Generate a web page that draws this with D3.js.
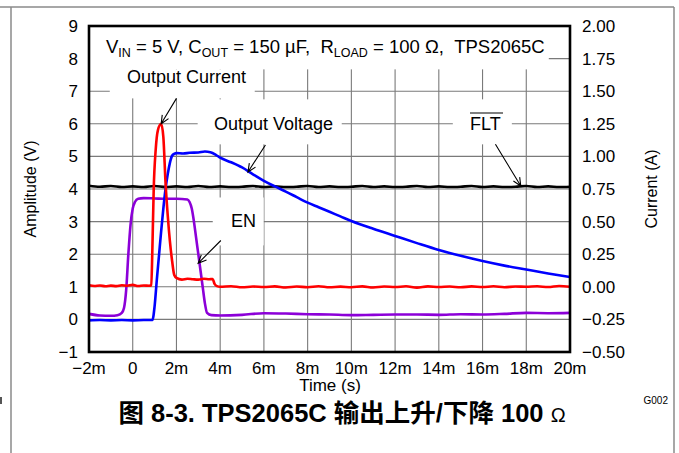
<!DOCTYPE html>
<html><head><meta charset="utf-8">
<script src="https://cdn.jsdelivr.net/npm/d3@7"></script>
<style>body{margin:0;background:#fff}svg{display:block}text{font-family:Arial,"Liberation Sans",Helvetica,"Noto Sans CJK SC",sans-serif;white-space:pre}</style>
</head><body><svg id="c" width="679" height="453"></svg>
<script>
// ---- data ----
const xTicks = [-2,0,2,4,6,8,10,12,14,16,18,20];
const xTickLabels = ["\u22122m","0","2m","4m","6m","8m","10m","12m","14m","16m","18m","20m"];
const yLTicks = [-1,0,1,2,3,4,5,6,7,8,9];
const yLTickLabels = ["\u22121","0","1","2","3","4","5","6","7","8","9"];
const yRTicks = [-0.5,-0.25,0,0.25,0.5,0.75,1,1.25,1.5,1.75,2];
const yRTickLabels = ["\u22120.50","\u22120.25","0.00","0.25","0.50","0.75","1.00","1.25","1.50","1.75","2.00"];

// FLT (V, left axis) [time ms, value]
const fltSeries = [[-2,4.10],[-1.5,4.07],[-1,4.09],[-0.5,4.06],[0,4.08],[0.5,4.06],[1,4.09],[1.5,4.06],[2,4.08],[2.5,4.06],[3,4.09],[3.5,4.06],[4,4.08],[4.5,4.06],[5,4.07],[5.5,4.09],[6,4.06],[6.5,4.08],[7,4.06],[7.5,4.07],[8,4.09],[8.5,4.06],[9,4.08],[9.5,4.06],[10,4.07],[10.5,4.09],[11,4.06],[11.5,4.08],[12,4.06],[12.5,4.07],[13,4.09],[13.5,4.06],[14,4.08],[14.5,4.06],[15,4.07],[15.5,4.09],[16,4.06],[16.5,4.08],[17,4.06],[17.5,4.07],[18,4.09],[18.5,4.06],[19,4.08],[19.5,4.06],[20,4.07]];
// Output voltage (V, left axis)
const voutSeries = [[-2,-0.03],[-1.5,-0.02],[-1,-0.03],[-0.5,-0.02],[0,-0.03],[0.5,-0.02],[0.9,-0.02],[1.0,0.4],[1.1,1.2],[1.2,1.95],[1.3,2.7],[1.4,3.4],[1.5,4.0],[1.6,4.45],[1.7,4.8],[1.8,5.02],[1.9,5.08],[2.0,5.1],[2.3,5.09],[2.6,5.11],[3.0,5.12],[3.3,5.15],[3.55,5.13],[3.8,5.05],[4,4.96],[4.5,4.82],[5,4.66],[5.5,4.45],[6,4.25],[6.5,4.08],[7,3.92],[7.5,3.75],[8,3.58],[8.5,3.44],[9,3.30],[9.5,3.16],[10,3.02],[11,2.78],[12,2.56],[13,2.34],[14,2.13],[15,1.95],[16,1.79],[17,1.65],[18,1.53],[19,1.41],[20,1.30]];
// EN (V, left axis)
const enSeries = [[-2,0.17],[-1.5,0.12],[-1,0.11],[-0.7,0.13],[-0.5,0.2],[-0.4,0.35],[-0.3,0.9],[-0.2,2.0],[-0.1,2.9],[0,3.4],[0.1,3.6],[0.25,3.7],[0.5,3.72],[1,3.71],[1.5,3.70],[2,3.70],[2.5,3.68],[2.6,3.6],[2.7,3.4],[2.8,3.0],[2.9,2.5],[3.0,2.0],[3.1,1.5],[3.2,1.0],[3.3,0.5],[3.4,0.2],[3.6,0.13],[4,0.12],[5,0.14],[6,0.19],[7,0.18],[8,0.16],[9,0.15],[10,0.13],[11,0.14],[12,0.15],[13,0.15],[14,0.14],[15,0.16],[16,0.15],[17,0.17],[18,0.2],[19,0.19],[20,0.2]];
// Output current (A, right axis)
const ioutSeries = [[-2,0.012],[-1.75,0.006],[-1.5,0.010],[-1.25,0.004],[-1,0.009],[-0.75,0.005],[-0.5,0.012],[-0.25,0.008],[0,0.015],[0.25,0.006],[0.5,0.010],[0.75,0.008],[0.85,0.012],[0.9,0.30],[0.96,0.75],[1.05,1.05],[1.15,1.20],[1.3,1.25],[1.4,1.15],[1.5,0.80],[1.6,0.55],[1.7,0.35],[1.8,0.20],[1.9,0.09],[2.0,0.068],[2.25,0.055],[2.5,0.062],[2.75,0.058],[3.0,0.055],[3.25,0.062],[3.5,0.058],[3.65,0.06],[3.75,0.02],[3.85,0.005],[4,0.0],[4.5,0.004],[5,-0.004],[5.5,0.002],[6,-0.002],[6.5,0.003],[7,-0.005],[7.5,0.002],[8,-0.003],[8.5,0.004],[9,-0.004],[9.5,0.001],[10,-0.003],[10.5,0.003],[11,-0.005],[11.5,0.002],[12,-0.002],[12.5,0.004],[13,-0.006],[13.5,0.003],[14,-0.002],[14.5,0.002],[15,-0.004],[15.5,0.003],[16,-0.002],[16.5,0.004],[17,-0.003],[17.5,0.002],[18,0.0],[18.5,0.004],[19,-0.002],[19.5,0.006],[20,0.0]];

// ---- layout ----
const svg = d3.select("#c");
const L=89,R=570,T=26,B=352;
const x = d3.scaleLinear().domain([-2,20]).range([L,R]);
const yL = d3.scaleLinear().domain([-1,9]).range([B,T]);
const yR = d3.scaleLinear().domain([-0.5,2]).range([B,T]);

// outer gray frame
const frameC="#8a8a8a";
svg.append("line").attr("x1",0).attr("x2",674).attr("y1",7).attr("y2",7).attr("stroke",frameC).attr("stroke-width",1.5);
svg.append("line").attr("x1",11).attr("x2",11).attr("y1",7).attr("y2",453).attr("stroke",frameC).attr("stroke-width",1.5);
svg.append("line").attr("x1",674).attr("x2",674).attr("y1",7).attr("y2",453).attr("stroke",frameC).attr("stroke-width",1.5);
svg.append("rect").attr("x",0).attr("y",397).attr("width",2).attr("height",7).attr("fill","#555");

// grid
const g = svg.append("g");
g.selectAll("line.v").data(xTicks.slice(1,-1)).join("line").attr("x1",d=>x(d)).attr("x2",d=>x(d)).attr("y1",T).attr("y2",B).attr("stroke","#7a7a7a").attr("stroke-width",1.1);
g.selectAll("line.h").data(yLTicks.slice(1,-1)).join("line").attr("x1",L).attr("x2",R).attr("y1",d=>yL(d)).attr("y2",d=>yL(d)).attr("stroke","#7a7a7a").attr("stroke-width",1.1);

// white label boxes (data units)
const boxes = [[-2,19.03,9,7.67],[-1.05,5.58,7.67,6.78],[2.97,9.56,6.75,5.37],[14.64,17.34,6.75,5.37],[3.66,5.99,3.74,2.27]];
svg.selectAll("rect.box").data(boxes).join("rect").attr("x",d=>x(d[0])).attr("width",d=>x(d[1])-x(d[0])).attr("y",d=>yL(d[2])).attr("height",d=>yL(d[3])-yL(d[2])).attr("fill","#fff");

// curves
const lineL = d3.line().x(d=>x(d[0])).y(d=>yL(d[1])).curve(d3.curveMonotoneX);
const lineR = d3.line().x(d=>x(d[0])).y(d=>yR(d[1])).curve(d3.curveMonotoneX);
const sw=2.6;
svg.append("path").attr("d",lineL(fltSeries)).attr("fill","none").attr("stroke","#000").attr("stroke-width",sw);
svg.append("path").attr("d",lineL(enSeries)).attr("fill","none").attr("stroke","#8c00d8").attr("stroke-width",sw);
svg.append("path").attr("d",lineL(voutSeries)).attr("fill","none").attr("stroke","#0000ff").attr("stroke-width",sw);
svg.append("path").attr("d",lineR(ioutSeries)).attr("fill","none").attr("stroke","#ff0000").attr("stroke-width",sw);

// plot frame
svg.append("rect").attr("x",L).attr("y",T).attr("width",R-L).attr("height",B-T).attr("fill","none").attr("stroke","#000").attr("stroke-width",2.6);

// arrows (data units): [t0,v0,t1,v1]
const arrows = [[2.0,6.78,1.3,6.0],[6.07,5.35,5.27,4.52],[16.59,5.37,17.75,4.09],[4.03,2.42,2.99,1.72]];
arrows.forEach(a=>{
  const x0=x(a[0]),y0=yL(a[1]),x1=x(a[2]),y1=yL(a[3]);
  const ang=Math.atan2(y1-y0,x1-x0), h=9, w=0.42;
  const p1=[x1-h*Math.cos(ang-w),y1-h*Math.sin(ang-w)], p2=[x1-h*Math.cos(ang+w),y1-h*Math.sin(ang+w)];
  svg.append("path").attr("d",`M${x0},${y0}L${x1},${y1}M${p1[0]},${p1[1]}L${x1},${y1}L${p2[0]},${p2[1]}`).attr("fill","none").attr("stroke","#000").attr("stroke-width",1.1);
});

// tick labels
const fs=17;
svg.selectAll("text.xt").data(xTicks).join("text").attr("x",d=>x(d)).attr("y",374).attr("text-anchor","middle").attr("font-size",fs).text((d,i)=>xTickLabels[i]);
svg.selectAll("text.yl").data(yLTicks).join("text").attr("x",78).attr("y",d=>yL(d)+6).attr("text-anchor","end").attr("font-size",fs).text((d,i)=>yLTickLabels[i]);
svg.selectAll("text.yr").data(yRTicks).join("text").attr("x",582).attr("y",d=>yR(d)+6).attr("text-anchor","start").attr("font-size",fs).text((d,i)=>yRTickLabels[i]);

// axis titles
svg.append("text").attr("transform","translate(36,189) rotate(-90)").attr("text-anchor","middle").attr("font-size",16).text("Amplitude (V)");
svg.append("text").attr("transform","translate(657,189) rotate(-90)").attr("text-anchor","middle").attr("font-size",16).text("Current (A)");
svg.append("text").attr("x",330).attr("y",391).attr("text-anchor","middle").attr("font-size",fs).text("Time (s)");
svg.append("text").attr("x",668).attr("y",404).attr("text-anchor","end").attr("font-size",10).text("G002");

// in-plot labels
const tfs=18.5, sfs=12.5;
const tt = svg.append("text").attr("x",106).attr("y",53).attr("font-size",tfs);
const parts=[["V",0],["IN",1],[" = 5 V, C",0],["OUT",1],[" = 150 \u00b5F,  R",0],["LOAD",1],[" = 100 \u03a9,  TPS2065C",0]];
let down=false;
parts.forEach(p=>{
  const ts=tt.append("tspan").attr("font-size",p[1]?sfs:tfs).text(p[0]);
  if(p[1]&&!down){ts.attr("dy",4);down=true;} else if(!p[1]&&down){ts.attr("dy",-4);down=false;}
});
svg.append("text").attr("x",127).attr("y",83).attr("font-size",18).text("Output Current");
svg.append("text").attr("x",214).attr("y",130).attr("font-size",18).text("Output Voltage");
svg.append("text").attr("x",470).attr("y",130).attr("font-size",18).text("FLT");
svg.append("line").attr("x1",470).attr("x2",503).attr("y1",113).attr("y2",113).attr("stroke","#000").attr("stroke-width",1.2);
svg.append("text").attr("x",231).attr("y",227).attr("font-size",18).text("EN");

// caption
const cap = svg.append("text").attr("x",342).attr("y",422).attr("text-anchor","middle").attr("font-size",25.5).attr("font-weight","bold");
cap.append("tspan").text("\u56fe 8-3. TPS2065C \u8f93\u51fa\u4e0a\u5347/\u4e0b\u964d 100 ");
cap.append("tspan").attr("font-weight","normal").attr("font-size",20).text("\u03a9");
</script></body></html>
